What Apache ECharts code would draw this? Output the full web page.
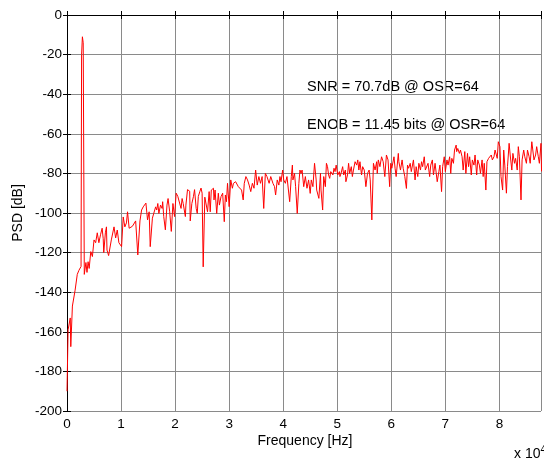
<!DOCTYPE html>
<html><head><meta charset="utf-8">
<script src="https://cdn.jsdelivr.net/npm/echarts@6/dist/echarts.min.js"></script>
<style>html,body{margin:0;padding:0;background:#fff}#c{width:544px;height:460px}</style>
</head><body><div id="c"></div>
<script>
// Frequency in units of 10^4 Hz
const freqLow = [0,0.02,0.06,0.07,0.10,0.15,0.19,0.22,0.25,0.26,0.27,0.285,0.30,0.32,0.33,0.35,0.37,0.39,0.41,0.44,0.47,0.50,0.53,0.56,0.59,0.62,0.65,0.67,0.68,0.71,0.73,0.74,0.77,0.79,0.82,0.87,0.90,0.93,0.96,1.01,1.04];
const psdLow  = [-190,-159,-153,-167.5,-147,-139,-131,-129,-128.5,-127,-20,-11,-14,-131,-131,-125,-130,-124.6,-128,-119.5,-122,-113.6,-115,-110,-115,-111,-107.7,-113,-120,-110,-107,-118.7,-121.5,-121,-113.6,-107,-112.6,-108.6,-115,-117,-102];

const freqMid = [1.07,1.10,1.12,1.15,1.18,1.21,1.24,1.27,1.31,1.35,1.38,1.41,1.44,1.46,1.49,1.52,1.54,1.56,1.58,1.61,1.64,1.66,1.68,1.70,1.73,1.76,1.77,1.79,1.82,1.85,1.87,1.90,1.93,1.96,1.99,2.02,2.05,2.08,2.11,2.13,2.15,2.19,2.20,2.23,2.27,2.28,2.31,2.34,2.36,2.39,2.41,2.43,2.46,2.48,2.50,2.52,2.55,
  2.58,2.60,2.63,2.65,2.67,2.71,2.72,2.74,2.77,2.80,2.82,2.85,2.88,2.91,2.93,2.95,2.97,3.00,3.03,3.06,3.08,3.10,3.12,3.15,3.17,3.20,3.23,3.26,3.28,3.31,3.34,3.37,3.40,3.43,3.46,3.49,3.52,3.55,3.58,3.61,3.64,3.67,3.70,3.74,3.77,3.81,3.84,3.86,3.89,3.92,3.94,3.96,3.99,4.01,4.04,4.07,4.09,4.12,4.15,4.17];
const psdMid  = [-107,-105,-99.4,-107.7,-107.5,-106.7,-106.6,-104,-121.2,-104,-98.5,-96.9,-97.7,-95,-103.5,-99.4,-117,-117.5,-102.6,-101.8,-96.9,-98.5,-95.2,-100.2,-96,-97.7,-94.3,-101.8,-108.5,-96,-92.7,-99.4,-109.3,-95.2,-101.8,-90,-91.6,-90.9,-97.7,-92.7,-95.2,-101.8,-96,-88.2,-89,-104,-95.2,-91.6,-88.2,-97.7,-100.2,-91.6,-89,-87.4,-90,-127.2,-92,
  -91.7,-99.4,-89.2,-99.4,-88.4,-87.5,-93.4,-88.4,-100.2,-90,-96,-91.7,-90,-104.4,-90.9,-94.3,-85,-96.8,-83.3,-87.5,-85,-85.9,-84.2,-85,-86.7,-85.9,-88.4,-93.4,-85,-81.6,-83.3,-85.9,-89.2,-85,-87.5,-78.3,-85.9,-81.6,-85,-81.6,-97.7,-80,-81.6,-85,-81.6,-85,-86.7,-90.9,-83.3,-85.9,-81.6,-84.2,-78.3,-83.3,-85,-81.6,-80.8,-94.3,-81.6,-75.8];

const freqHigh = [4.18,4.21,4.23,4.26,4.29,4.31,4.33,4.35,4.38,4.41,4.44,4.47,4.50,4.52,4.55,4.58,4.61,4.62,4.66,4.69,4.70,4.73,4.75,4.78,4.80,4.82,4.84,4.86,4.88,4.90,4.92,4.94,4.96,4.98,5.01,5.04,5.05,5.07,5.10,5.12,5.15,5.16,5.19,5.21,5.23,5.26,5.28,5.30,5.33,5.36,5.38,5.40,5.42,5.45,5.47,5.50,5.53,5.56,5.59,5.61,5.64,5.67,5.70,5.73,
  5.74,5.76,5.79,5.82,5.85,5.88,5.91,5.94,5.97,5.99,6.01,6.05,6.07,6.09,6.13,6.14,6.17,6.20,6.22,6.25,6.28,6.30,6.32,6.35,6.37,6.39,6.41,6.44,6.46,6.49,6.51,6.54,6.56,6.58,6.61,6.63,6.66,6.68,6.71,6.73,6.76,6.78,6.81,6.83,6.85,6.88,6.90,6.93,6.95,6.98,7.00,7.03,7.05,7.08,7.10,7.12,7.15,7.17,7.20];
const psdHigh  = [-83.3,-80,-86.7,-100.2,-85,-78.3,-80,-78.3,-86.7,-81.6,-87.5,-83.3,-90.1,-83.3,-86.7,-74.9,-83.3,-88.4,-92.6,-80,-88.4,-98.5,-81.6,-86.7,-74.9,-76.6,-80.8,-82.5,-79.1,-80,-80.8,-77.4,-79.1,-75.8,-80.8,-79.1,-81.6,-80,-76.6,-80.8,-78.3,-84.2,-80.8,-74.9,-80,-76.6,-81.6,-78.3,-74.1,-75.8,-73.2,-78.3,-74.1,-80.8,-76.6,-78.3,-86.7,-80,-78.3,-83.3,-103.5,-74.9,-78.3,-74.1,
  -80,-73.2,-76.6,-71.6,-74.1,-81.6,-70.7,-73.2,-86.7,-74.9,-77.4,-71.6,-77.4,-81.6,-69.9,-74.1,-78.3,-73.2,-77.4,-81.6,-87.6,-75.8,-77.4,-74.9,-79.1,-80,-73.2,-83.3,-76.6,-81.6,-74.9,-78.3,-74.1,-76.6,-71.6,-78.3,-77.4,-74.9,-81.6,-75.8,-73.2,-80.8,-74.9,-74.1,-84.2,-79.1,-75.8,-89.2,-76.6,-71.6,-79.1,-73.2,-75.8,-71.6,-80,-72.4,-74.9,-68.2,-65.7];

const freqTop = [7.21,7.23,7.26,7.28,7.31,7.33,7.36,7.38,7.41,7.43,7.45,7.48,7.50,7.53,7.55,7.58,7.60,7.63,7.65,7.68,7.70,7.72,7.75,7.77,7.80,7.82,7.85,7.87,7.90,7.92,7.95,7.96,7.98,8.01,8.03,8.06,8.08,8.10,8.13,8.15,8.18,8.20,8.23,8.25,8.28,8.30,8.33,8.35,8.37,8.40,8.42,8.45,8.47,8.50,8.52,8.55,8.57,8.60,8.62,8.64,8.67,8.69,8.72,8.74,8.77,8.78];
const psdTop  = [-69,-67.4,-69.9,-68.2,-71.6,-78.3,-69,-80,-69.9,-76.6,-71.6,-80.8,-73.2,-75.8,-70.7,-80.8,-73.2,-75.8,-80,-73.2,-81.6,-74.9,-88.4,-74.1,-72.4,-71.6,-70.7,-73.2,-71.6,-68.2,-67.4,-72.4,-64,-66.5,-81.6,-88.4,-68.2,-75.8,-90,-76.6,-64.8,-70.7,-78.3,-69.9,-74.9,-72.4,-78.3,-66.5,-71.6,-93.4,-73.2,-68.2,-71.6,-74.9,-68.2,-71.6,-74.9,-64,-64.8,-73.2,-70.7,-66.5,-71.6,-74.9,-64.8,-79];

const xTicks = [0,1,2,3,4,5,6,7,8];
const yTicks = [0,-20,-40,-60,-80,-100,-120,-140,-160,-180,-200];

const freq = freqLow.concat(freqMid, freqHigh, freqTop);
const psd = psdLow.concat(psdMid, psdHigh, psdTop);

const FONT = '"Liberation Sans", Arial, sans-serif';
const chart = echarts.init(document.getElementById('c'), null, {renderer: 'canvas'});
const gridCol = '#8a8a8a';
const xMax = 8.77;
const axisCommonX = {
  type: 'value', min: xTicks[0], max: xMax, interval: xTicks[1] - xTicks[0]
};
chart.setOption({
  animation: false,
  backgroundColor: '#fff',
  grid: {left: 67, top: 15, right: 0, bottom: 49, containLabel: false},
  xAxis: [
    Object.assign({}, axisCommonX, {
      position: 'bottom',
      axisLine: {show: true, lineStyle: {color: '#000', width: 1}},
      axisTick: {show: true, inside: true, length: 4, lineStyle: {color: '#000'}},
      axisLabel: {color: '#000', fontSize: 13.5, fontFamily: FONT, margin: 6,
        formatter: v => (xTicks.indexOf(v) >= 0 ? String(v) : '')},
      splitLine: {show: true, lineStyle: {color: gridCol, width: 1}}
    }),
    Object.assign({}, axisCommonX, {
      position: 'top',
      axisLine: {show: true, lineStyle: {color: '#000', width: 1}},
      axisTick: {show: true, inside: true, length: 4, lineStyle: {color: '#000'}},
      axisLabel: {show: false},
      splitLine: {show: false}
    })
  ],
  yAxis: [
    {
      type: 'value', min: yTicks[yTicks.length - 1], max: yTicks[0], interval: 20,
      position: 'left',
      axisLine: {show: true, lineStyle: {color: '#000', width: 1}},
      axisTick: {show: true, inside: true, length: 4, lineStyle: {color: '#000'}},
      axisLabel: {color: '#000', fontSize: 13.5, fontFamily: FONT, margin: 5},
      splitLine: {show: true, lineStyle: {color: gridCol, width: 1}}
    },
    {
      type: 'value', min: yTicks[yTicks.length - 1], max: yTicks[0], interval: 20,
      position: 'right',
      axisLine: {show: true, lineStyle: {color: '#000', width: 1}},
      axisTick: {show: true, inside: true, length: 4, lineStyle: {color: '#000'}},
      axisLabel: {show: false},
      splitLine: {show: false}
    }
  ],
  series: [{
    type: 'line',
    data: freq.map((f, i) => [f, psd[i]]),
    showSymbol: false,
    symbol: 'none',
    lineStyle: {color: '#ff0000', width: 1},
    clip: true,
    z: 3
  }],
  graphic: [
    {type: 'text', left: 307, top: 79, style: {text: 'SNR = 70.7dB @ OSR=64', fill: '#000', font: '14.5px ' + FONT}},
    {type: 'text', left: 307, top: 117, style: {text: 'ENOB = 11.45 bits @ OSR=64', fill: '#000', font: '14.5px ' + FONT}},
    {type: 'text', x: 305, y: 441, style: {text: 'Frequency [Hz]', fill: '#000', font: '14px ' + FONT, textAlign: 'center', textVerticalAlign: 'middle'}},
    {type: 'text', x: 18, y: 213, rotation: Math.PI / 2, style: {text: 'PSD [dB]', fill: '#000', font: '14px ' + FONT, textAlign: 'center', textVerticalAlign: 'middle'}},
    {type: 'text', left: 514, top: 445, style: {
      text: 'x 10{sup|4}', fill: '#000', font: '14px ' + FONT,
      rich: {sup: {fontSize: 10, fontFamily: FONT, verticalAlign: 'top', padding: [0, 0, 8, 0]}}
    }}
  ]
});
</script>
</body></html>
